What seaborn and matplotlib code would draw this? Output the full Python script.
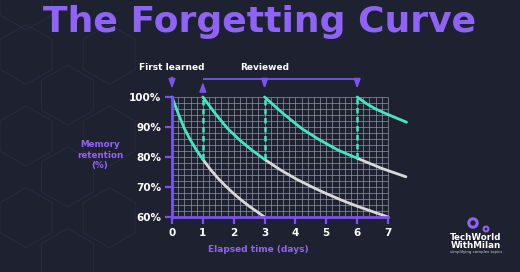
import numpy as np
import pandas as pd
import matplotlib
matplotlib.use("Agg")
import matplotlib.pyplot as plt
from matplotlib.patches import RegularPolygon, Circle
import seaborn as sns

# ---------------- data ----------------
title = "The Forgetting Curve"
x_ticks = [0, 1, 2, 3, 4, 5, 6, 7]
y_ticks = [60, 70, 80, 90, 100]
y_tick_labels = ["60%", "70%", "80%", "90%", "100%"]

# curve after first learning (day 0)
curve_a_x = [0, 0.2, 0.4, 0.6, 0.8, 1.0, 1.25, 1.5, 1.75, 2.0, 2.25, 2.5, 2.75, 3.0]
curve_a_y = [100, 94.5, 89.5, 85.6, 82.2, 79.2, 75.8, 72.8, 70.2, 67.8, 65.6, 63.6, 61.8, 60]
# after first review (day 1)
curve_b_x = [1, 1.4, 1.8, 2.2, 2.6, 3.0, 3.5, 4.0, 4.5, 5.0, 5.5, 6.0, 6.5, 7.0]
curve_b_y = [100, 94.5, 89.5, 85.6, 82.2, 79.2, 75.8, 72.8, 70.2, 67.8, 65.6, 63.6, 61.8, 60]
# after second review (day 3)
curve_c_x = [3, 3.6, 4.2, 4.8, 5.4, 6.0, 6.8, 7.58]
curve_c_y = [100, 94.5, 89.5, 85.6, 82.2, 79.6, 76.2, 73.4]
# after third review (day 6)
curve_d_x = [6, 6.3, 6.6, 6.9, 7.2, 7.6]
curve_d_y = [100, 97.8, 96.0, 94.6, 93.3, 91.6]

review_days = [1, 3, 6]          # days when material is reviewed
first_learned_day = 0

# ---------------- style ----------------
BG = "#1e2130"
TEAL = "#45e6c3"
WHITE_CURVE = "#d9d9dc"
PURPLE = "#7b52ec"
PURPLE_TXT = "#8f63f5"
GRID = "#9597ab"

sns.set_theme(style="dark")
plt.rcParams["font.family"] = ["DejaVu Sans"]

fig = plt.figure(figsize=(5.2, 2.72), dpi=100, facecolor=BG)

# faint hexagon decoration in the background (left side)
for (cx, cy) in [(0.05, 0.80), (0.13, 0.65), (0.05, 0.50), (0.13, 0.35), (0.05, 0.20),
                 (0.21, 0.50), (0.21, 0.20), (0.13, 0.05), (0.21, 0.80), (0.05, 1.0)]:
    hexp = RegularPolygon((cx * 520, cy * 272), numVertices=6, radius=30,
                          orientation=0, fill=False, edgecolor="#3d3f66",
                          lw=0.6, alpha=0.35, transform=None)
    fig.patches.append(hexp)

# axes placement: x=0 at px 172, x=7 at px 388; y=60 at px 217, y=100 at px 97
px_per_day = (388 - 172) / 7
px_per_pct = (217 - 97) / 40
xmin, xmax = 0, 7.8
ymin, ymax = 60, 101
left = 172 / 520
bottom = (272 - 217) / 272
width = (xmax - xmin) * px_per_day / 520
height = (ymax - ymin) * px_per_pct / 272
ax = fig.add_axes([left, bottom, width, height])
ax.set_facecolor("none")
ax.set_xlim(xmin, xmax)
ax.set_ylim(ymin, ymax)

# fine grid inside 0..7 x 60..100
ax.vlines(np.arange(0, 7.001, 0.2), 60, 100, color=GRID, lw=0.6, alpha=0.8, zorder=1)
ax.hlines(np.arange(60, 100.001, 2), 0, 7, color=GRID, lw=0.6, alpha=0.8, zorder=1)

# curves: teal until next review, light grey afterwards
curves = [
    (curve_a_x, curve_a_y, 1.0),
    (curve_b_x, curve_b_y, 3.0),
    (curve_c_x, curve_c_y, 6.0),
    (curve_d_x, curve_d_y, None),
]
for cx_, cy_, t_end in curves:
    df = pd.DataFrame({"day": cx_, "ret": cy_})
    if t_end is None:
        teal = df
        grey = None
    else:
        teal = df[df.day <= t_end]
        grey = df[df.day >= t_end]
    if grey is not None:
        sns.lineplot(data=grey, x="day", y="ret", color=WHITE_CURVE, lw=2.0, ax=ax,
                     zorder=3, clip_on=False)
    sns.lineplot(data=teal, x="day", y="ret", color=TEAL, lw=2.0, ax=ax,
                 zorder=4, clip_on=False)

# dashed jumps at each review
prev_curves = [(curve_a_x, curve_a_y), (curve_b_x, curve_b_y), (curve_c_x, curve_c_y)]
for day, (px_, py_) in zip(review_days, prev_curves):
    y_drop = py_[px_.index(day)] if day in px_ else py_[-1]
    ax.vlines(day, y_drop, 100, color=TEAL, lw=1.8, linestyles=(0, (2.2, 1.4)), zorder=4)

# spines / ticks
for s in ["top", "right"]:
    ax.spines[s].set_visible(False)
for s in ["left", "bottom"]:
    ax.spines[s].set_color(PURPLE)
    ax.spines[s].set_linewidth(2)
    ax.spines[s].set_zorder(5)
ax.spines["left"].set_bounds(60, 100)
ax.spines["bottom"].set_bounds(0, 7)
ax.set_xticks(x_ticks)
ax.set_xticklabels([str(t) for t in x_ticks])
ax.set_yticks(y_ticks)
ax.set_yticklabels(y_tick_labels)
ax.tick_params(axis="both", colors=PURPLE, labelcolor="white", length=5, width=1.6,
               direction="out", labelsize=7.5, pad=3, bottom=True, left=True)
for lab in ax.get_xticklabels() + ax.get_yticklabels():
    lab.set_fontweight("bold")
ax.set_xlabel("")
ax.set_ylabel("")

# annotations above plot
arrow_kw = dict(arrowstyle="-|>,head_length=0.45,head_width=0.16", color=PURPLE, lw=1.3)
ax.text(first_learned_day, 110, "First learned", color="white", fontsize=6.5,
        fontweight="bold", ha="center", va="center", clip_on=False)
ax.annotate("", xy=(first_learned_day, 101.8), xytext=(first_learned_day, 107.5),
            arrowprops=arrow_kw, annotation_clip=False)
ax.text(review_days[1], 110, "Reviewed", color="white", fontsize=6.5,
        fontweight="bold", ha="center", va="center", clip_on=False)
ax.plot([review_days[0], review_days[-1]], [106, 106], color=PURPLE, lw=1.3,
        clip_on=False, solid_capstyle="butt")
ax.annotate("", xy=(review_days[0], 106), xytext=(review_days[0], 101.8),
            arrowprops=arrow_kw, annotation_clip=False)
for d in review_days[1:]:
    ax.annotate("", xy=(d, 101.8), xytext=(d, 106.2),
                arrowprops=arrow_kw, annotation_clip=False)

# title and axis labels
fig.text(260 / 520, 1 - 32 / 272, title, color=PURPLE_TXT, fontsize=26,
         fontweight="heavy", ha="center", va="baseline")
fig.text(100 / 520, 1 - 155 / 272, "Memory\nretention\n(%)", color=PURPLE_TXT,
         fontsize=6.3, fontweight="bold", ha="center", va="center", linespacing=1.15)
fig.text(258 / 520, 1 - 249 / 272, "Elapsed time (days)", color=PURPLE_TXT,
         fontsize=6.5, fontweight="bold", ha="center", va="center")

# logo bottom right
fig.patches.append(Circle((473, 272 - 223), 4.2, fill=False, edgecolor=PURPLE_TXT,
                          lw=2.2, transform=None))
fig.patches.append(Circle((486, 272 - 229), 2.4, fill=False, edgecolor=PURPLE_TXT,
                          lw=1.5, transform=None))
fig.text(476 / 520, 1 - 237 / 272, "TechWorld", color="white", fontsize=6.3,
         fontweight="bold", ha="center", va="center")
fig.text(476 / 520, 1 - 245 / 272, "WithMilan", color="white", fontsize=6.3,
         fontweight="bold", ha="center", va="center")
fig.text(476 / 520, 1 - 251.5 / 272, "simplifying complex topics", color="#cfcfd8",
         fontsize=2.8, ha="center", va="center")

fig.savefig("out.png", dpi=100, facecolor=BG)
